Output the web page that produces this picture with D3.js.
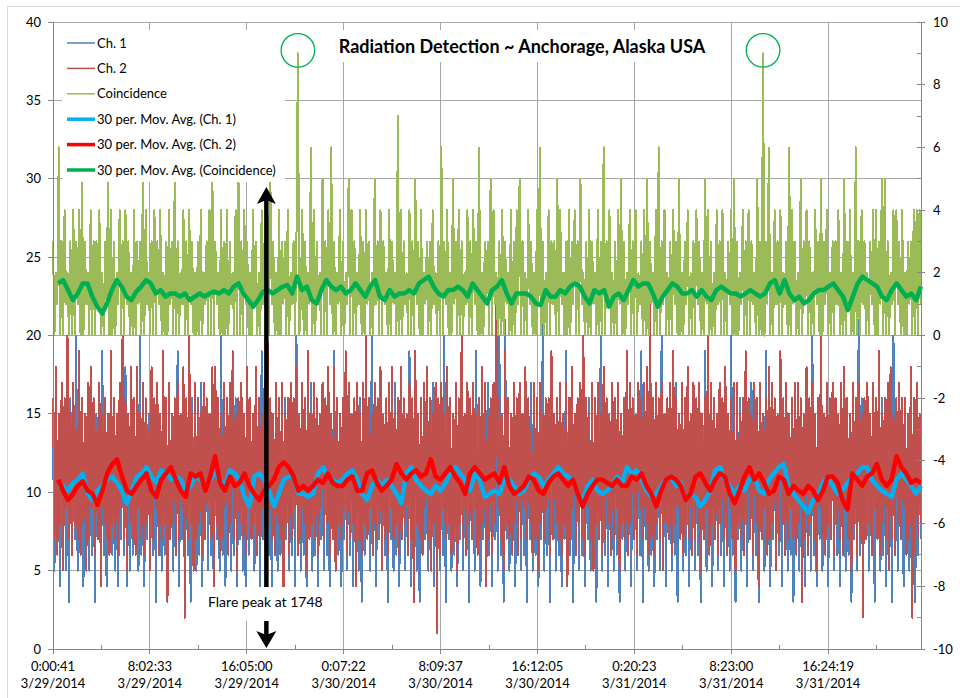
<!DOCTYPE html>
<html><head><meta charset="utf-8">
<script src="https://cdn.jsdelivr.net/npm/d3@7"></script>
<style>body{margin:0;background:#fff}svg{display:block}</style>
</head><body><svg id="c" width="960" height="698"></svg>
<script>
// ---------- data ----------
const ch1 = [
14,5,15,6,13,4,17,7,14,5,13,3,16,6,14,7,20,5,13,6,
15,4,14,7,12,5,16,6,13,3,15,7,14,5,19,6,13,4,14,7,
12,6,16,5,14,4,13,7,15,6,18,4,13,5,14,6,12,7,15,5,
20,6,13,4,14,7,15,5,12,6,16,3,14,7,13,5,17,6,14,4,
13,7,15,5,14,6,19,4,13,7,12,5,15,6,14,3,16,7,13,5,
14,6,17,4,13,7,15,5,14,6,12,3,16,7,13,5,20,6,14,4,
15,7,13,5,14,6,16,4,12,7,15,5,14,3,18,6,13,7,14,5,
12,6,15,4,19,7,13,5,14,6,16,3,13,7,15,5,14,6,12,4,
16,7,14,5,13,6,15,4,20,7,14,5,12,6,15,4,13,7,17,5,
14,6,13,4,15,7,12,5,16,6,14,3,13,7,19,5,14,6,15,4,
13,7,14,5,17,6,15,4,13,7,12,5,16,3,14,6,15,7,13,5,
20,6,14,4,13,7,15,5,14,6,16,3,12,7,14,5,17,6,13,4,
15,7,14,5,13,6,19,4,14,7,15,5,13,3,16,6,14,7,12,5,
14,6,17,4,15,7,13,5,14,6,20,3,13,7,15,5,14,6,16,4,
13,7,14,5,12,6,16,3,15,7,14,5,19,6,13,4,14,7,15,5,
17,6,13,4,14,7,15,5,20,6,14,3,21,7,13,5,15,6,14,4,
12,7,16,5,14,6,13,3,15,7,17,5,14,6,13,4,14,7,21,5,
14,6,13,3,16,7,14,5,12,6,15,4,13,7,19,5,14,6,13,3,
15,7,14,5,17,6,13,4,14,7,16,5,15,6,13,3,14,7,20,5,
13,6,15,4,14,7,12,5,16,6,14,3,13,7,15,5,18,6,14,4,
14,7,13,5,15,6,19,3,14,7,13,5,16,6,14,4,12,7,15,5,
20,6,14,4,13,7,15,5,14,6,17,3,13,7,14,5,15,6,16,4,
13,7,14,5,15,6,12,3,14,7,19,5,13,6,15,4,14,7,13,5,
16,6,14,4,13,7,15,5,20,6,14,3,13,7,16,5,14,6,15,4,
14,7,17,5,13,6,14,3,15,7,13,5,19,6,14,4,12,7,15,5,
13,6,15,4,14,7,16,5,13,6,14,3,17,7,15,5,14,6,13,4,
15,7,14,5,20,6,13,4,14,7,16,5,13,6,15,4,14,7,17,5,
14,6,13,4,15,7,14,5,15,6,13,3,14,7,15,5,21,6,16,4,
13,7,15,5,14,6,17,3,13,7,14,5,16,6,15,4,14,7,13,3,
20,6,14,5,13,7,15,4,14,6,12,5,16,7,14,3,13,6,15,7];
const ch2 = [
16,7,18,6,15,8,17,5,16,9,20,7,15,6,17,8,14,7,19,6,
16,8,15,5,17,7,18,9,16,6,14,7,17,4,15,8,16,7,15,6,
19,8,16,7,15,6,17,9,20,7,16,5,15,8,18,7,16,6,18,9,
15,7,17,6,16,8,14,5,18,7,16,9,17,6,15,7,19,8,16,3,
17,7,15,8,16,6,17,7,15,9,18,2,16,7,20,8,15,5,17,7,
16,8,15,6,17,7,16,9,15,7,18,4,18,8,16,6,15,7,17,9,
16,6,17,8,19,7,15,5,16,8,17,7,15,6,18,9,16,7,15,8,
18,6,16,7,15,9,17,5,20,8,16,7,15,6,17,8,16,7,17,2,
15,8,16,6,17,7,16,9,18,6,15,7,17,8,16,5,19,7,15,8,
17,7,16,6,15,9,17,7,16,8,18,6,15,7,18,5,16,8,15,7,
16,9,19,6,17,7,15,8,16,4,17,7,15,6,17,8,20,7,16,9,
15,6,17,7,16,8,18,5,15,7,16,6,17,9,18,7,15,8,16,6,
18,7,16,8,15,6,17,7,16,3,19,8,15,7,16,6,17,9,18,7,
16,5,15,8,17,1,16,6,17,9,15,7,18,8,16,6,15,7,17,5,
16,8,20,7,15,6,17,8,16,7,17,9,15,6,16,7,18,8,17,4,
15,7,16,6,17,8,22,9,16,7,15,5,19,8,16,7,15,6,17,8,
16,6,17,7,15,9,18,7,16,8,14,6,17,7,16,5,17,8,15,7,
16,9,16,6,19,7,15,8,16,7,17,6,15,8,17,4,16,7,18,9,
15,6,16,8,17,7,20,6,16,9,15,7,17,5,16,8,17,7,15,6,
18,7,16,8,15,6,17,7,16,9,17,5,15,8,16,7,19,6,17,8,
16,7,15,6,17,9,16,7,17,8,18,6,22,7,16,6,17,8,16,7,
17,5,15,8,16,7,17,6,19,8,16,9,15,7,17,6,16,8,18,7,
15,6,17,7,16,8,17,5,15,7,16,9,20,6,17,8,16,7,15,6,
17,8,16,7,18,6,15,9,16,7,17,5,17,8,15,7,16,6,19,8,
16,7,15,6,17,8,16,4,17,7,15,9,16,6,18,7,17,8,16,5,
15,7,19,8,16,6,17,7,15,9,16,7,17,6,17,8,16,3,15,7,
18,6,16,8,17,7,15,5,16,9,20,7,15,6,17,8,16,7,17,6,
16,8,15,7,17,6,18,9,16,7,15,5,17,8,16,6,17,7,15,2,
16,7,17,8,15,6,17,9,16,7,19,6,15,8,16,7,17,5,18,7,
15,6,16,8,17,7,16,9,16,6,15,7,18,2,16,6,17,7,15,8];
const coincidence = [
3,0,2,1,6,0,3,0,4,1,2,0,3,0,4,0,3,1,4,0,
5,0,3,1,2,0,4,0,3,0,3,1,4,0,2,0,3,1,5,0,
4,0,3,0,2,1,4,0,3,0,4,1,3,0,2,0,4,0,3,1,
3,0,5,0,4,1,2,0,3,0,4,0,3,1,4,0,2,0,3,0,
4,1,3,0,5,0,3,0,2,1,4,0,3,0,4,1,3,0,2,0,
3,0,4,0,2,1,3,0,4,0,5,0,3,1,2,0,4,0,3,0,
4,0,3,1,2,0,4,0,5,0,3,0,4,1,3,0,2,0,4,1,
3,0,2,0,4,1,3,0,4,0,5,1,3,0,2,0,4,0,3,1,
3,0,4,0,2,1,3,0,3,9,0,1,4,0,3,0,2,1,6,0,
4,0,3,1,2,0,5,0,3,0,4,1,6,0,3,0,2,1,4,0,
3,0,2,1,5,0,4,0,3,0,2,1,4,0,3,0,4,1,3,0,
2,0,5,1,3,0,4,0,3,1,2,0,4,0,3,1,2,0,7,0,
4,0,3,1,2,0,4,0,3,0,5,1,3,0,4,0,2,1,3,0,
3,0,4,1,2,0,3,0,6,0,3,1,4,0,2,0,5,1,3,0,
4,0,3,0,2,1,4,0,3,0,4,1,3,0,6,0,2,0,3,1,
3,0,5,0,4,1,2,0,3,0,4,0,3,1,2,0,4,0,3,0,
4,1,5,0,3,0,2,0,4,1,3,0,2,0,4,1,6,0,3,0,
2,0,4,0,3,1,3,0,5,0,4,1,2,0,3,0,4,0,3,1,
4,0,3,0,5,1,2,0,3,0,4,0,3,1,2,0,4,0,3,0,
6,0,3,1,4,0,2,0,3,0,4,1,5,0,3,0,2,1,4,0,
3,0,4,0,2,1,3,0,4,0,5,0,3,1,2,0,4,0,6,0,
3,1,4,0,2,0,3,0,4,1,3,0,5,0,2,0,3,1,4,0,
2,0,3,0,4,1,3,0,2,0,5,1,4,0,3,0,2,0,4,1,
3,0,4,0,2,0,3,1,4,0,5,0,3,0,2,1,4,0,3,0,
4,0,3,1,2,0,5,0,3,0,9,0,3,1,6,0,2,0,4,1,
3,0,4,0,2,1,3,0,6,0,4,1,3,0,2,0,5,0,3,1,
4,0,3,0,2,0,4,1,3,0,5,0,3,1,4,0,2,0,3,0,
3,1,4,0,2,0,5,0,3,1,4,0,2,0,6,0,3,0,4,1,
3,0,2,0,3,1,4,0,4,0,3,1,5,0,5,0,3,0,2,1,
4,0,4,1,3,0,4,0,2,0,3,1,3,0,4,0,4,0,4,1];
// 30 per. moving averages
const movAvgCh1 = [
10.4,10.4,10.1,10.6,10.8,11.2,9.9,9.5,10.1,10.4,10.8,11.0,10.6,10.1,9.3,10.1,11.0,11.2,11.6,11.0,
10.6,11.4,11.2,10.8,11.0,10.8,9.9,10.4,11.0,10.8,10.4,10.8,11.2,10.8,10.4,11.4,11.2,10.8,9.7,9.1,
11.0,11.2,10.8,10.1,9.1,9.9,10.8,11.0,11.0,9.9,9.9,9.7,9.9,11.2,11.6,11.0,10.8,10.6,
10.8,11.2,11.4,10.8,9.9,9.5,10.4,10.8,10.4,10.8,10.4,9.9,9.3,11.2,11.6,10.8,10.4,10.1,9.9,10.4,
10.1,10.6,11.2,11.6,11.2,10.8,10.1,11.2,10.8,9.7,9.9,10.1,9.9,10.8,10.8,10.4,9.9,10.1,10.8,11.2,
11.0,10.4,10.8,11.2,11.6,11.2,11.0,10.8,9.9,9.5,10.4,10.8,10.1,9.9,10.1,10.4,11.0,10.6,11.6,11.2,
11.4,10.8,10.1,9.7,9.9,10.4,10.8,11.0,10.4,10.6,9.5,9.9,9.7,9.1,9.5,10.1,11.4,11.6,10.8,10.4,
9.9,10.4,10.1,10.8,11.0,10.1,9.9,10.8,11.2,11.6,11.8,10.4,9.9,9.5,9.1,8.7,9.5,9.9,10.6,11.0,
10.4,9.9,10.1,10.6,11.0,11.2,11.6,11.6,10.8,10.4,10.1,9.9,9.7,10.8,11.2,10.8,10.4,9.9,10.4];
const movAvgCh2 = [
10.8,10.1,9.5,9.9,10.4,10.7,10.1,9.9,9.2,10.1,11.2,11.8,12.1,11.0,10.1,9.9,10.4,10.8,11.2,10.1,
9.7,10.8,11.2,11.6,10.8,10.1,9.7,11.2,11.0,11.2,10.1,11.0,12.3,10.6,10.1,11.0,10.4,10.6,11.2,10.4,
9.9,9.5,10.1,10.4,10.8,11.6,11.9,11.6,11.0,10.1,10.4,10.1,10.4,10.8,10.6,11.2,10.6,10.4,
10.4,10.8,11.0,10.1,10.1,11.2,11.4,10.6,10.1,10.4,10.8,11.8,11.2,10.8,11.2,11.4,11.0,11.2,12.1,11.0,
10.8,11.2,11.6,11.0,10.6,9.9,11.2,11.6,11.2,10.8,11.0,11.2,10.6,11.6,10.4,9.9,10.1,10.4,11.0,10.8,
10.1,9.9,10.6,11.0,11.2,10.8,10.4,10.8,9.9,9.1,9.9,10.4,10.8,10.8,10.6,10.4,10.8,10.4,10.4,11.0,
10.8,11.2,10.4,9.9,9.1,10.1,10.8,11.0,10.8,10.4,9.5,9.9,11.0,11.2,10.6,10.1,10.8,11.2,11.0,9.9,
9.3,10.1,11.0,11.6,10.8,11.2,10.6,9.9,10.1,11.0,10.8,9.9,10.4,10.1,9.9,10.4,10.1,9.5,10.1,11.0,
11.0,10.6,9.5,8.9,11.2,10.8,10.4,11.0,11.2,11.8,10.8,10.4,10.8,12.3,11.6,11.2,10.6,10.8,10.6];
const movAvgCoinc = [
1.66,1.77,1.45,1.13,1.34,1.66,1.66,1.24,0.92,0.70,1.02,1.45,1.77,1.56,1.24,1.13,1.40,1.56,1.77,1.66,
1.34,1.45,1.24,1.34,1.34,1.24,1.34,1.13,1.24,1.34,1.24,1.34,1.40,1.34,1.45,1.34,1.56,1.66,1.34,1.13,
0.92,1.13,1.40,1.45,1.34,1.45,1.56,1.61,1.34,1.88,1.45,1.56,1.13,1.02,1.45,1.77,1.56,1.45,1.56,
1.34,1.45,1.66,1.45,1.24,1.56,1.77,1.24,1.13,1.45,1.24,1.34,1.34,1.45,1.34,1.66,1.77,1.88,1.56,1.34,
1.24,1.45,1.45,1.56,1.45,1.24,1.66,1.45,1.24,1.02,1.45,1.56,1.77,1.34,1.02,1.34,1.34,1.34,1.24,1.02,
0.97,1.45,1.24,1.24,1.45,1.34,1.56,1.66,1.56,1.24,1.02,1.45,1.34,1.45,0.92,1.24,1.34,1.13,1.45,1.77,
1.56,1.66,1.66,1.34,0.92,1.24,1.45,1.66,1.56,1.34,1.34,1.45,1.24,1.45,1.24,1.13,1.45,1.56,1.45,1.34,
1.34,1.24,1.34,1.45,1.34,1.24,1.34,1.66,1.77,1.34,1.77,1.34,1.13,1.24,1.02,1.13,1.34,1.45,1.45,1.56,
1.66,1.45,1.24,0.81,1.24,1.66,1.88,1.77,1.66,1.56,1.24,1.13,1.45,1.66,1.45,1.24,1.34,1.13,1.56];

const timeLabels = ["0:00:41","8:02:33","16:05:00","0:07:22","8:09:37","16:12:05","0:20:23","8:23:00","16:24:19"];
const dateLabels = ["3/29/2014","3/29/2014","3/29/2014","3/30/2014","3/30/2014","3/30/2014","3/31/2014","3/31/2014","3/31/2014"];
const leftTicks = [0,5,10,15,20,25,30,35,40];
const rightTicks = [-10,-8,-6,-4,-2,0,2,4,6,8,10];
const seriesNames = ["Ch. 1","Ch. 2","Coincidence","30 per. Mov. Avg. (Ch. 1)","30 per. Mov. Avg. (Ch. 2)","30 per. Mov. Avg. (Coincidence)"];
const chartTitle = "Radiation Detection ~ Anchorage, Alaska USA";
const flareText = "Flare peak at 1748";
const labelEvery = 480;     // minutes between category labels
const totalMinutes = 4300;  // length of record
const flareMinute = 1057;   // 17:48 marker
const maStart = 26;

// ---------- chart ----------
const FONT = "Lato, 'Open Sans', sans-serif";
const svg = d3.select("#c");
const P = {l:53, r:921, t:22, b:649};
const x = d3.scaleLinear().domain([0,totalMinutes]).range([P.l,P.r]);
const yL = d3.scaleLinear().domain([0,40]).range([P.b,P.t]);
const yR = d3.scaleLinear().domain([-10,10]).range([P.b,P.t]);
const C = {ch1:"#4F81BD", ch2:"#C0504D", co:"#9BBB59", ma1:"#00B0F0", ma2:"#FF0000", maC:"#00B050"};

// outer chart border
svg.append("rect").attr("x",7.5).attr("y",6.5).attr("width",970).attr("height",720)
  .attr("fill","none").attr("stroke","#D9D9D9");

// gridlines
const grid = svg.append("g").attr("stroke","#A6A6A6").attr("stroke-width",1).attr("shape-rendering","crispEdges");
leftTicks.filter(v=>v>0).forEach(v=>grid.append("line").attr("x1",P.l).attr("x2",P.r).attr("y1",yL(v)).attr("y2",yL(v)));
const majors = timeLabels.map((_,i)=>i*labelEvery);
majors.filter(v=>v>0).forEach(v=>grid.append("line").attr("x1",x(v)).attr("x2",x(v)).attr("y1",P.t).attr("y2",P.b));

// series
const rawX = (arr)=> (d,i)=> x(i*totalMinutes/(arr.length-1));
const maX = (arr)=> (d,i)=> x(maStart + i*(totalMinutes-maStart)/(arr.length-1));
function draw(arr, xf, yf, color, w, crisp){
  const p = svg.append("path").datum(arr).attr("fill","none").attr("stroke",color).attr("stroke-width",w)
    .attr("stroke-linejoin","round")
    .attr("d", d3.line().x(xf(arr)).y(d=>yf(d)));
  if(crisp) p.attr("shape-rendering","crispEdges");
}
draw(ch1, rawX, yL, C.ch1, 2, true);
draw(ch2, rawX, yL, C.ch2, 2, true);
draw(coincidence, rawX, yR, C.co, 2, true);
draw(movAvgCh1, maX, yL, C.ma1, 4.5);
draw(movAvgCh2, maX, yL, C.ma2, 4.5);
draw(movAvgCoinc, maX, yR, C.maC, 4.5);

// axes
const ax = svg.append("g").attr("stroke","#868686").attr("shape-rendering","crispEdges");
ax.append("line").attr("x1",P.l).attr("x2",P.l).attr("y1",P.t).attr("y2",P.b);
ax.append("line").attr("x1",P.r).attr("x2",P.r).attr("y1",P.t).attr("y2",P.b);
ax.append("line").attr("x1",P.l).attr("x2",P.r).attr("y1",P.b).attr("y2",P.b);
leftTicks.forEach(v=>ax.append("line").attr("x1",P.l-5).attr("x2",P.l).attr("y1",yL(v)).attr("y2",yL(v)));
d3.range(-10,11).forEach(v=>ax.append("line").attr("x1",P.r-4).attr("x2",P.r+(v%2===0?4:0)).attr("y1",yR(v)).attr("y2",yR(v)));
majors.forEach(v=>ax.append("line").attr("x1",x(v)).attr("x2",x(v)).attr("y1",P.b).attr("y2",P.b+5));
majors.forEach(v=>{ if(v+labelEvery/2<totalMinutes) ax.append("line").attr("x1",x(v+labelEvery/2)).attr("x2",x(v+labelEvery/2)).attr("y1",P.b-4).attr("y2",P.b); });

const txt = svg.append("g").attr("font-family",FONT).attr("font-size",13).attr("fill","#000");
leftTicks.forEach(v=>txt.append("text").attr("x",41).attr("y",yL(v)).attr("dy","0.35em").attr("text-anchor","end").text(v));
rightTicks.forEach(v=>txt.append("text").attr("x",933).attr("y",yR(v)).attr("dy","0.35em").text(v));
majors.forEach((v,i)=>{
  txt.append("text").attr("x",x(v)).attr("y",671).attr("text-anchor","middle").text(timeLabels[i]);
  txt.append("text").attr("x",x(v)).attr("y",688).attr("text-anchor","middle").text(dateLabels[i]);
});

// title
svg.append("rect").attr("x",335).attr("y",30).attr("width",375).attr("height",32).attr("fill","#fff");
svg.append("text").attr("x",522).attr("y",53).attr("text-anchor","middle").attr("font-family",FONT)
  .attr("font-weight","bold").attr("font-size",18).text(chartTitle);

// legend
svg.append("rect").attr("x",62).attr("y",30).attr("width",223).attr("height",152).attr("fill","#fff");
const lc = [C.ch1,C.ch2,C.co,C.ma1,C.ma2,C.maC];
seriesNames.forEach((n,i)=>{
  const yy = 43 + i*25.4;
  svg.append("line").attr("x1",67).attr("x2",95).attr("y1",yy).attr("y2",yy).attr("stroke",lc[i]).attr("stroke-width",i<3?1.5:3.5);
  svg.append("text").attr("x",97).attr("y",yy).attr("dy","0.35em").attr("font-family",FONT).attr("font-size",13).text(n);
});

// circles around the coincidence peaks
const peak = d3.max(coincidence);
coincidence.forEach((v,i)=>{ if(v===peak){
  svg.append("circle").attr("cx",x(i*totalMinutes/(coincidence.length-1))).attr("cy",yR(v)-3).attr("r",16.8)
    .attr("fill","none").attr("stroke",C.maC).attr("stroke-width",1.3);
}});

// flare annotation
const fx = x(flareMinute);
svg.append("line").attr("x1",fx).attr("x2",fx).attr("y1",200).attr("y2",587).attr("stroke","#000").attr("stroke-width",4.5);
svg.append("path").attr("d",`M${fx},187 L${fx+9.5},204 L${fx},200 L${fx-9.5},204 Z`).attr("fill","#000");
svg.append("rect").attr("x",192).attr("y",587).attr("width",146).attr("height",34).attr("fill","#fff");
svg.append("text").attr("x",fx-1).attr("y",607).attr("text-anchor","middle").attr("font-family",FONT).attr("font-size",14).text(flareText);
svg.append("line").attr("x1",fx).attr("x2",fx).attr("y1",621).attr("y2",636).attr("stroke","#000").attr("stroke-width",4.5);
svg.append("path").attr("d",`M${fx},648 L${fx+10},631 L${fx},635 L${fx-10},631 Z`).attr("fill","#000");
</script></body></html>
